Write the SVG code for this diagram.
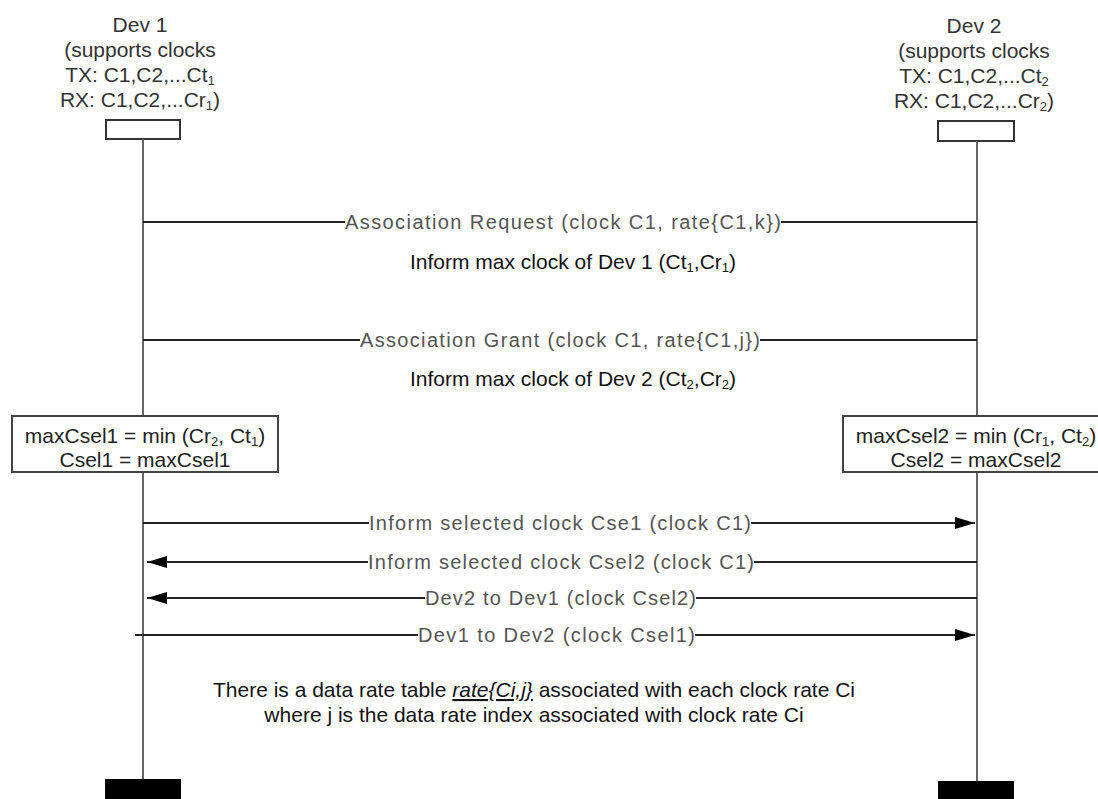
<svg xmlns="http://www.w3.org/2000/svg" width="1098" height="799" viewBox="0 0 1098 799">
<defs>
<marker id="ah" markerWidth="20" markerHeight="12" refX="20" refY="6" orient="auto" markerUnits="userSpaceOnUse">
<path d="M0,0 L20,6 L0,12 Z" fill="#000"/>
</marker>
<style>
.hd{font-family:"Liberation Sans",Arial,sans-serif;font-size:21px;fill:#333;text-anchor:middle}
.bx{font-family:"Liberation Sans",Arial,sans-serif;font-size:21px;fill:#222;text-anchor:middle}
.msg{font-family:"Liberation Sans",Arial,sans-serif;font-size:20px;fill:#555}
.note{font-family:"Liberation Sans",Arial,sans-serif;font-size:21px;fill:#111}
.sub{font-size:13px}
.life{stroke:#666;stroke-width:2;fill:none}
.ml{stroke:#222;stroke-width:2;fill:none}
.head{fill:#fff;stroke:#333;stroke-width:2}
.box{fill:#fff;stroke:#444;stroke-width:2}
.foot{fill:#000}
</style>
</defs>
<rect width="1098" height="799" fill="#fff"/>

<g id="dev1">
<text class="hd" x="140" y="32">Dev 1</text>
<text class="hd" x="140" y="57">(supports clocks</text>
<text class="hd" x="140" y="82">TX: C1,C2,...Ct<tspan class="sub" dy="3">1</tspan></text>
<text class="hd" x="140" y="107">RX: C1,C2,...Cr<tspan class="sub" dy="3">1</tspan><tspan dy="-3">)</tspan></text>
<rect class="head" x="106" y="120" width="74" height="19"/>
<line class="life" x1="143" y1="139" x2="143" y2="416"/>
<line class="life" x1="143" y1="472" x2="143" y2="779"/>
<rect class="foot" x="105" y="779" width="76" height="20"/>
</g>

<g id="dev2">
<text class="hd" x="974" y="33">Dev 2</text>
<text class="hd" x="974" y="58">(supports clocks</text>
<text class="hd" x="974" y="83">TX: C1,C2,...Ct<tspan class="sub" dy="3">2</tspan></text>
<text class="hd" x="974" y="108">RX: C1,C2,...Cr<tspan class="sub" dy="3">2</tspan><tspan dy="-3">)</tspan></text>
<rect class="head" x="938" y="121" width="76" height="20"/>
<line class="life" x1="977" y1="141" x2="977" y2="416"/>
<line class="life" x1="977" y1="472" x2="977" y2="781"/>
<rect class="foot" x="938" y="781" width="76" height="18"/>
</g>

<g id="calc1">
<rect class="box" x="12" y="416" width="266" height="56"/>
<text class="bx" x="145" y="443">maxCsel1 = min (Cr<tspan class="sub" dy="3">2</tspan><tspan dy="-3">, Ct</tspan><tspan class="sub" dy="3">1</tspan><tspan dy="-3">)</tspan></text>
<text class="bx" x="145" y="467">Csel1 = maxCsel1</text>
</g>

<g id="calc2">
<rect class="box" x="843" y="416" width="266" height="56"/>
<text class="bx" x="976" y="443">maxCsel2 = min (Cr<tspan class="sub" dy="3">1</tspan><tspan dy="-3">, Ct</tspan><tspan class="sub" dy="3">2</tspan><tspan dy="-3">)</tspan></text>
<text class="bx" x="976" y="467">Csel2 = maxCsel2</text>
</g>

<g id="connectors">
<line class="ml" x1="143" y1="222" x2="345" y2="222"/>
<line class="ml" x1="781" y1="222" x2="977" y2="222"/>
<line class="ml" x1="143" y1="340" x2="360" y2="340"/>
<line class="ml" x1="760" y1="340" x2="977" y2="340"/>
<line class="ml" x1="143" y1="523" x2="369" y2="523"/>
<line class="ml" x1="751" y1="523" x2="975" y2="523" marker-end="url(#ah)"/>
<line class="ml" x1="977" y1="562" x2="754" y2="562"/>
<line class="ml" x1="368" y1="562" x2="147" y2="562" marker-end="url(#ah)"/>
<line class="ml" x1="977" y1="598" x2="696" y2="598"/>
<line class="ml" x1="425" y1="598" x2="147" y2="598" marker-end="url(#ah)"/>
<line class="ml" x1="135" y1="635" x2="418" y2="635"/>
<line class="ml" x1="695" y1="635" x2="975" y2="635" marker-end="url(#ah)"/>
</g>

<g id="labels">
<text class="msg" x="345" y="229" textLength="436">Association Request (clock C1, rate{C1,k})</text>
<text class="note" x="410" y="269">Inform max clock of Dev 1 (Ct<tspan class="sub" dy="3">1</tspan><tspan dy="-3">,Cr</tspan><tspan class="sub" dy="3">1</tspan><tspan dy="-3">)</tspan></text>
<text class="msg" x="360" y="347" textLength="400">Association Grant (clock C1, rate{C1,j})</text>
<text class="note" x="410" y="386">Inform max clock of Dev 2 (Ct<tspan class="sub" dy="3">2</tspan><tspan dy="-3">,Cr</tspan><tspan class="sub" dy="3">2</tspan><tspan dy="-3">)</tspan></text>
<text class="msg" x="369" y="530" textLength="382">Inform selected clock Cse1 (clock C1)</text>
<text class="msg" x="368" y="569" textLength="386">Inform selected clock Csel2 (clock C1)</text>
<text class="msg" x="425" y="605" textLength="271">Dev2 to Dev1 (clock Csel2)</text>
<text class="msg" x="418" y="642" textLength="277">Dev1 to Dev2 (clock Csel1)</text>
<text class="note" x="534" y="697" text-anchor="middle">There is a data rate table <tspan font-style="italic" text-decoration="underline">rate{Ci,j}</tspan> associated with each clock rate Ci</text>
<text class="note" x="534" y="722" text-anchor="middle">where j is the data rate index associated with clock rate Ci</text>
</g>
</svg>
